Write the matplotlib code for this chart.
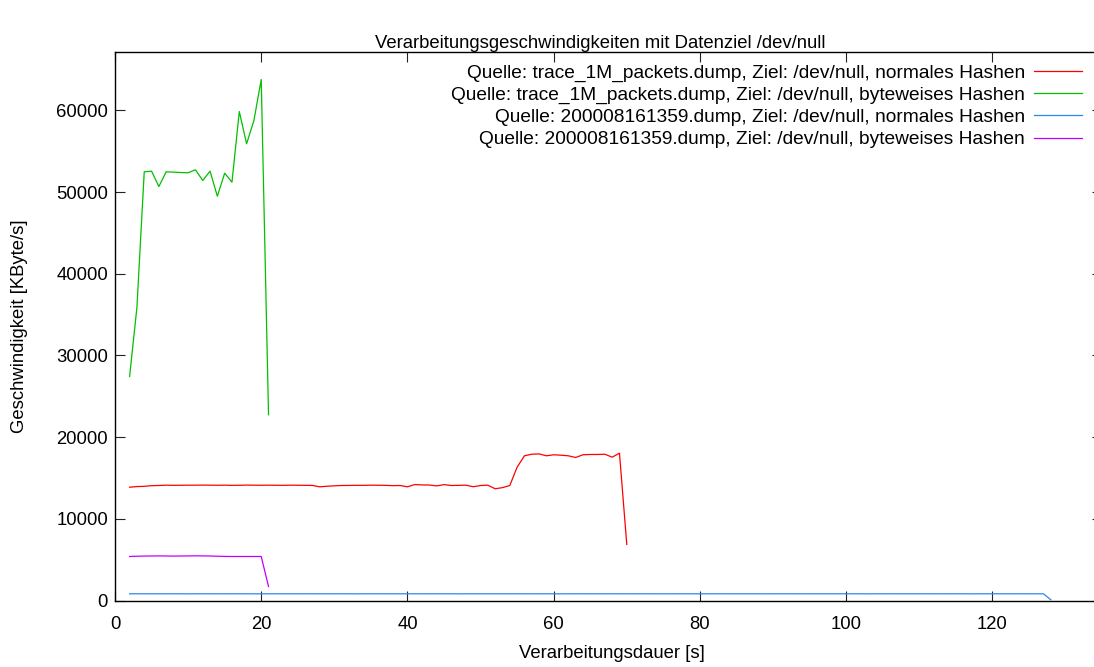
import matplotlib
matplotlib.use('Agg')
import matplotlib.pyplot as plt
import numpy as np


######## measured throughput per second ########

# trace_1M_packets.dump, normal hashing (t = 2 .. 70 s)
red_kbs = [13870, 13950, 13980, 14060, 14080, 14120, 14100, 14110, 14120, 14120,
           14130, 14120, 14110, 14120, 14100, 14110, 14130, 14120, 14110, 14120,
           14110, 14100, 14120, 14110, 14100, 14090, 13920, 13990, 14040, 14080,
           14090, 14100, 14100, 14120, 14110, 14100, 14060, 14080, 13920, 14200,
           14150, 14140, 14030, 14190, 14080, 14100, 14120, 13930, 14080, 14120,
           13680, 13820, 14080, 16320, 17720, 17910, 17950, 17720, 17840, 17790,
           17720, 17510, 17840, 17880, 17880, 17910, 17550, 18040, 6860]

# trace_1M_packets.dump, bytewise hashing (t = 2 .. 21 s)
green_kbs = [27430, 35910, 52490, 52570, 50690, 52490, 52450, 52400, 52370, 52740,
             51430, 52570, 49500, 52320, 51220, 59870, 55920, 58770, 63790, 22740]

# 200008161359.dump, normal hashing (t = 2 .. 128 s)
blue_kbs = [820, 822, 821, 820, 819, 821, 822, 820, 818, 820,
            821, 820, 819, 820, 822, 821, 820, 818, 819, 820,
            821, 820, 820, 819, 821, 822, 820, 819, 820, 821,
            820, 818, 820, 821, 822, 820, 819, 820, 821, 820,
            819, 820, 822, 821, 820, 818, 819, 820, 821, 820,
            820, 819, 821, 822, 820, 819, 820, 821, 820, 818,
            820, 821, 822, 820, 819, 820, 821, 820, 819, 820,
            822, 821, 820, 818, 819, 820, 821, 820, 820, 819,
            821, 822, 820, 819, 820, 821, 820, 818, 820, 821,
            822, 820, 819, 820, 821, 820, 819, 820, 822, 821,
            820, 818, 819, 820, 821, 820, 820, 819, 821, 822,
            820, 819, 820, 821, 820, 818, 820, 821, 822, 820,
            819, 820, 821, 820, 819, 820, 90]

# 200008161359.dump, bytewise hashing (t = 2 .. 21 s)
purple_kbs = [5390, 5420, 5440, 5450, 5460, 5450, 5440, 5450, 5460, 5470,
              5460, 5450, 5420, 5400, 5390, 5390, 5390, 5390, 5390, 1710]

labels = ['Quelle: trace_1M_packets.dump, Ziel: /dev/null, normales Hashen',
          'Quelle: trace_1M_packets.dump, Ziel: /dev/null, byteweises Hashen',
          'Quelle: 200008161359.dump, Ziel: /dev/null, normales Hashen',
          'Quelle: 200008161359.dump, Ziel: /dev/null, byteweises Hashen']

series = [red_kbs, green_kbs, blue_kbs, purple_kbs]
colors = ['#ff0000', '#00c000', '#2f86ea', '#c000ff']


######## plot ########

plt.rcParams.update({'font.family': ['Liberation Sans', 'DejaVu Sans'],
                     'font.size': 13.3})

W, H = 1094, 667
fig = plt.figure(figsize=(W / 100, H / 100), dpi=100)
ax = fig.add_axes([115 / W, 1 - 600.5 / H, (1102 - 115) / W, (600.5 - 52) / H])

for vals, col, lab in zip(series, colors, labels):
    t = np.arange(2, 2 + len(vals))
    ax.plot(t, vals, color=col, lw=0.9, label=lab)

ax.set_xlim(0, 135)
ax.set_ylim(0, 67160)
ax.set_xticks(range(0, 121, 20))
ax.set_yticks(range(0, 60001, 10000))
ax.tick_params(direction='in', length=7, width=0.8, top=True, right=True,
               color='#222222')
ax.tick_params(axis='x', pad=11)
ax.tick_params(axis='y', pad=5)
for s in ax.spines.values():
    s.set_linewidth(1.0)

fig.text(600 / W, 1 - 44 / H, 'Verarbeitungsgeschwindigkeiten mit Datenziel /dev/null',
         ha='center', va='center')
fig.text(612 / W, 1 - 654 / H, 'Verarbeitungsdauer [s]', ha='center', va='center')
fig.text(20 / W, 1 - 326 / H, 'Geschwindigkeit [KByte/s]', ha='center', va='center',
         rotation=90)

ax.legend(loc='upper right', bbox_to_anchor=(1082 / W, 1 - 64 / H),
          bbox_transform=fig.transFigure, frameon=False, markerfirst=False,
          borderpad=0, borderaxespad=0, handlelength=2.5, handletextpad=0.48,
          labelspacing=0.25, fontsize=13.8)

plt.savefig('out.png', dpi=100)
